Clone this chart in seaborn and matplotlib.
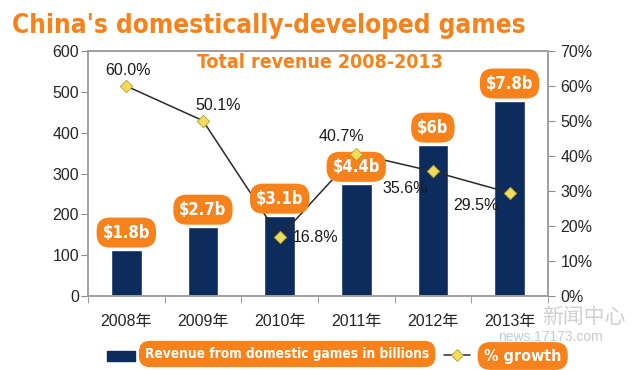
import numpy as np
import pandas as pd
import matplotlib
matplotlib.use("Agg")
import matplotlib.pyplot as plt
import seaborn as sns
from matplotlib.patches import Rectangle
from matplotlib.lines import Line2D

# data
years = ["2008年", "2009年", "2010年", "2011年", "2012年", "2013年"]
revenue = [113, 169, 196, 274, 370, 478]
growth = [60.0, 50.1, 16.8, 40.7, 35.6, 29.5]
bar_labels = ["$1.8b", "$2.7b", "$3.1b", "$4.4b", "$6b", "$7.8b"]
growth_labels = ["60.0%", "50.1%", "16.8%", "40.7%", "35.6%", "29.5%"]

# styling
navy = "#0c2c5e"
orange = "#f7821b"
grey = "#8c8c8c"
label_offsets = [(1, 11), (11, 11), (26, 0), (-11, 12), (-20, -12), (-24, -9)]
badge_font = dict(family="DejaVu Sans", fontstretch="condensed", fontweight="bold")

sns.set_style("white")
plt.rcParams["font.family"] = ["Liberation Sans", "Noto Sans CJK SC"]

df = pd.DataFrame({"year": years, "revenue": revenue})

fig = plt.figure(figsize=(6.4, 3.7), dpi=100)
ax = fig.add_axes([0.1375, 0.2, 0.7185, 0.662])

sns.barplot(data=df, x="year", y="revenue", color=navy, width=0.4,
            saturation=1, ax=ax)
ax.set_ylim(0, 600)
ax.set_xlim(-0.5, 5.5)
ax.set_yticks(range(0, 601, 100))
ax.set_xlabel("")
ax.set_ylabel("")
ax.set_xticks(np.arange(len(years)))
ax.set_xticklabels(years, fontsize=11.5)
ax.tick_params(axis="x", length=0, pad=13)
ax.tick_params(axis="y", labelsize=11.5, length=5, color=grey, direction="out",
               left=True, pad=1.5)
# boundary ticks between categories
ax.set_xticks(np.arange(len(years) + 1) - 0.5, minor=True)
ax.tick_params(axis="x", which="minor", length=5, color=grey, bottom=True)
for s in ax.spines.values():
    s.set_color("#a0a0a0")
    s.set_linewidth(1.2)

ax2 = ax.twinx()
x = np.arange(len(years))
sns.lineplot(x=x, y=growth, ax=ax2, color="#2a2a2a", linewidth=1.1, zorder=2)
ax2.scatter(x, growth, marker="D", s=40, c="#f0dc5a", edgecolors="#b5a030",
            linewidths=0.6, zorder=7)
ax2.set_ylim(0, 70)
ax2.set_yticks(range(0, 71, 10))
ax2.set_yticklabels([f"{t}%" for t in range(0, 71, 10)])
ax2.tick_params(axis="y", labelsize=11.5, length=5, color=grey, direction="out",
                right=True, pad=4)
for s in ax2.spines.values():
    s.set_color("#a0a0a0")
    s.set_linewidth(1.2)

# orange value badges on top of the line
for i, (v, lab) in enumerate(zip(revenue, bar_labels)):
    ax2.annotate(lab, (i, v), xycoords=ax.transData, xytext=(0, 6),
                 textcoords="offset points", ha="center", va="bottom",
                 color="white", fontsize=12, **badge_font,
                 bbox=dict(boxstyle="round,pad=0.36,rounding_size=0.8",
                           fc=orange, ec="none"), zorder=5)

for i, (g, lab) in enumerate(zip(growth, growth_labels)):
    dx, dy = label_offsets[i]
    ax2.annotate(lab, (i, g), xytext=(dx, dy), textcoords="offset points",
                 ha="center", va="center", fontsize=11.5, color="#1a1a1a",
                 zorder=6)

# titles
fig.text(0.018, 0.93, "China's domestically-developed games", color=orange,
         fontsize=18.7, va="center", ha="left", **badge_font)
fig.text(0.500, 0.83, "Total revenue 2008-2013", color=orange, fontsize=14,
         va="center", ha="center", **badge_font)

# watermark
fig.text(0.912, 0.142, "新闻中心", color="#d0d0d0", fontsize=15,
         family=["Noto Sans CJK SC"], ha="center", va="center", zorder=0)
fig.text(0.86, 0.088, "news.17173.com", color="#cacaca", fontsize=10,
         ha="center", va="center", zorder=0)

# legend
fig.add_artist(Rectangle((107 / 640, 1 - 361 / 370), 28 / 640, 10 / 370,
                         transform=fig.transFigure, color=navy))
fig.text(145 / 640, 1 - 354 / 370, "Revenue from domestic games in billions",
         color="white", fontsize=9.8, va="center", ha="left", **badge_font,
         bbox=dict(boxstyle="round,pad=0.45,rounding_size=0.8", fc=orange, ec="none"))
fig.add_artist(Line2D([444 / 640, 470 / 640], [1 - 355 / 370] * 2,
                      transform=fig.transFigure, color="#2a2a2a", lw=1.1))
fig.add_artist(Line2D([457 / 640], [1 - 355 / 370], transform=fig.transFigure,
                      marker="D", markersize=6, markerfacecolor="#f0dc5a",
                      markeredgecolor="#b5a030", markeredgewidth=0.6, lw=0))
fig.text(484 / 640, 1 - 356 / 370, "% growth", color="white", fontsize=11.5,
         va="center", ha="left", **badge_font,
         bbox=dict(boxstyle="round,pad=0.4,rounding_size=0.8", fc=orange, ec="none"))

fig.savefig("out.png", dpi=100)
